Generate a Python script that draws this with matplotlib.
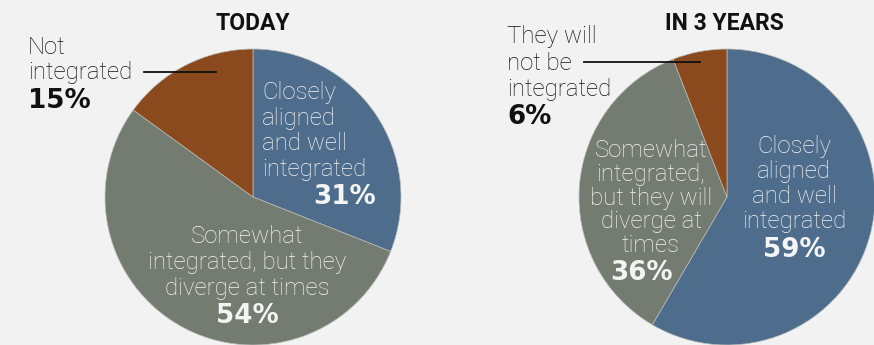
import matplotlib.pyplot as plt

plt.rcParams['font.family'] = ['Roboto', 'DejaVu Sans']

# share of respondents, clockwise from 12 o'clock
today_labels = ["Closely aligned and well integrated",
                "Somewhat integrated, but they diverge at times",
                "Not integrated"]
today_values = [31, 54, 15]

future_labels = ["Closely aligned and well integrated",
                 "Somewhat integrated, but they will diverge at times",
                 "They will not be integrated"]
future_values = [59, 36, 6]

titles = ["TODAY", "IN 3 YEARS"]
colors = ["#4e6c8c", "#747c72", "#8b4a1d"]

W, H = 874, 345
BG = "#f2f2f2"
WHITE = "#f4f4f4"
INK = "#111111"

fig = plt.figure(figsize=(W / 100, H / 100), dpi=100, facecolor=BG)
ax = fig.add_axes([0, 0, 1, 1])


def Y(y):
    # pixel rows are counted from the top
    return H - y


def lines(x, y0, step, rows, ha="left", color=INK, size=17.3, weight="light"):
    for i, r in enumerate(rows):
        ax.text(x, Y(y0 + i * step), r, ha=ha, va="baseline",
                color=color, fontsize=size, fontweight=weight)


def pct(x, y, v, ha="left", color=INK):
    ax.text(x, Y(y), f"{v}%", ha=ha, va="baseline", color=color,
            fontsize=18.8, fontweight="bold", family="DejaVu Sans")


for vals, cx in [(today_values, 253), (future_values, 727)]:
    ax.pie(vals, colors=colors, startangle=90, counterclock=False,
           center=(cx, Y(197)), radius=148, frame=True,
           wedgeprops=dict(edgecolor="#b9bcb8", linewidth=0.5))
ax.set_xlim(0, W)
ax.set_ylim(0, H)
ax.set_aspect("equal")
ax.axis("off")

ax.text(253, Y(30), titles[0], ha="center", va="baseline",
        fontsize=16.5, fontweight="bold", color=INK)
ax.text(724, Y(30), titles[1], ha="center", va="baseline",
        fontsize=16.5, fontweight="bold", color=INK)

# TODAY
lines(28, 54, 25.5, ["Not", "integrated"])
pct(28, 108, today_values[2])
ax.plot([144, 216], [Y(72), Y(72)], color=INK, lw=1.3)
lines(262, 99, 25.7, ["Closely", "aligned", "and well", "integrated"], color=WHITE)
pct(376, 204, today_values[0], ha="right", color=WHITE)
lines(247, 243, 26, ["Somewhat", "integrated, but they", "diverge at times"],
      ha="center", color=WHITE)
pct(247, 323, today_values[1], ha="center", color=WHITE)

# IN 3 YEARS
lines(507, 43, 26.5, ["They will", "not be", "integrated"])
pct(507, 124, future_values[2])
ax.plot([584, 700], [Y(62), Y(62)], color=INK, lw=1.3)
lines(651, 157, 23.8, ["Somewhat", "integrated,", "but they will",
                       "diverge at", "times"], ha="center", color=WHITE)
pct(642, 280, future_values[1], ha="center", color=WHITE)
lines(794, 153, 25, ["Closely", "aligned", "and well", "integrated"],
      ha="center", color=WHITE)
pct(794, 257, future_values[0], ha="center", color=WHITE)

fig.savefig("out.png", dpi=100, facecolor=BG)
